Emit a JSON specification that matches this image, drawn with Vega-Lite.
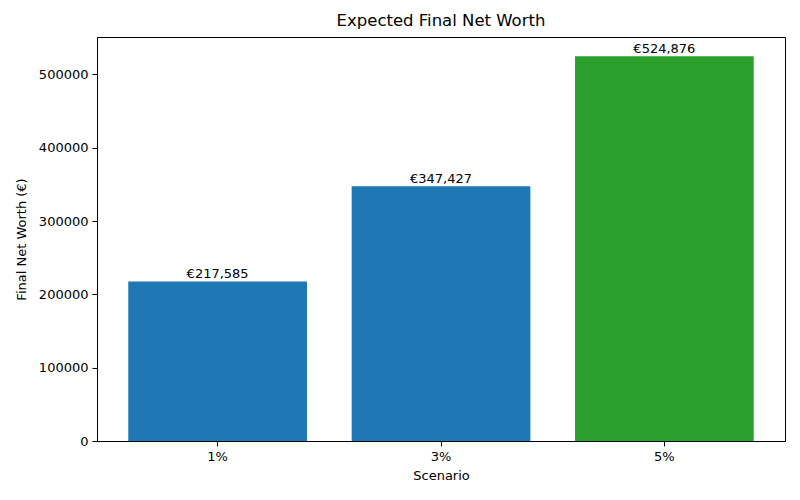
{
  "$schema": "https://vega.github.io/schema/vega-lite/v6.json",
  "autosize": "none",
  "padding": {"left": 97, "top": 37, "right": 15, "bottom": 59},
  "width": 688,
  "height": 404,
  "background": "white",
  "config": {
    "font": "DejaVu Sans",
    "view": {"stroke": "black", "strokeWidth": 1},
    "axis": {
      "grid": false,
      "domainColor": "black",
      "tickColor": "black",
      "labelColor": "black",
      "titleColor": "black",
      "labelFontSize": 13,
      "titleFontSize": 13,
      "titleFontWeight": "normal",
      "tickSize": 5,
      "labelPadding": 4
    }
  },
  "title": {
    "text": "Expected Final Net Worth",
    "fontSize": 16.5,
    "fontWeight": "normal",
    "color": "black",
    "offset": 8
  },
  "data": {
    "values": [
      {"scenario": "1%", "value": 217585, "label": "€217,585", "color": "#1f77b4"},
      {"scenario": "3%", "value": 347427, "label": "€347,427", "color": "#1f77b4"},
      {"scenario": "5%", "value": 524876, "label": "€524,876", "color": "#2ca02c"}
    ]
  },
  "encoding": {
    "x": {
      "field": "scenario",
      "type": "nominal",
      "sort": null,
      "scale": {"paddingInner": 0.2, "paddingOuter": 0.14},
      "axis": {"title": "Scenario", "labelAngle": 0, "titlePadding": 6}
    },
    "y": {
      "field": "value",
      "type": "quantitative",
      "scale": {"domain": [0, 551120], "nice": false},
      "axis": {
        "title": "Final Net Worth (€)",
        "values": [0, 100000, 200000, 300000, 400000, 500000],
        "format": "d",
        "titlePadding": 10
      }
    }
  },
  "layer": [
    {
      "mark": {"type": "bar"},
      "encoding": {
        "color": {"field": "color", "type": "nominal", "scale": null, "legend": null}
      }
    },
    {
      "mark": {"type": "text", "baseline": "bottom", "dy": 0, "fontSize": 13, "color": "black"},
      "encoding": {
        "text": {"field": "label"}
      }
    }
  ]
}
